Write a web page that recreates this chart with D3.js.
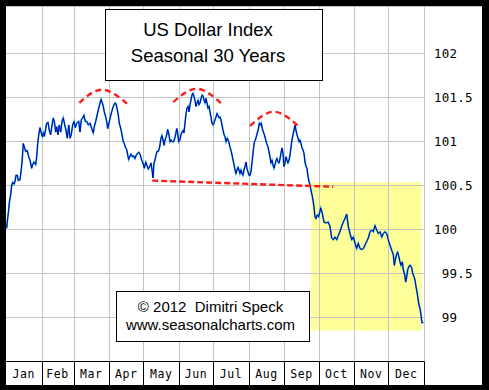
<!DOCTYPE html>
<html>
<head>
<meta charset="utf-8">
<script src="https://cdn.jsdelivr.net/npm/d3@7"></script>
<style>
  body { margin: 0; background: #000; }
  text { font-family: "Liberation Sans", Arial, sans-serif; }
  .mono { font-family: "DejaVu Sans Mono", monospace; font-size: 11.5px; letter-spacing: 0.6px; white-space: pre; }
</style>
</head>
<body>
<script>
// seasonal pattern, [day of year, index value]
const series = [
  [0.6,100.01],[1.1,100.08],[2.0,100.18],[2.9,100.30],[4.1,100.39],[5.0,100.50],[5.9,100.53],[7.0,100.51],[7.9,100.54],[8.7,100.61],
  [9.9,100.61],[10.7,100.55],[12.2,100.56],[13.1,100.65],[14.0,100.76],[15.1,100.97],[16.0,100.93],[17.2,100.88],[18.6,100.89],[19.8,100.82],
  [21.0,100.78],[22.4,100.69],[23.3,100.73],[24.4,100.76],[25.9,100.73],[26.8,100.82],[27.7,100.97],[28.6,101.07],[29.7,101.15],[30.6,101.10],
  [31.7,101.05],[32.6,101.09],[33.4,101.05],[34.7,101.14],[35.5,101.20],[36.7,101.21],[37.8,101.12],[39.0,101.07],[40.2,101.18],[41.3,101.26],
  [42.2,101.22],[43.4,101.10],[44.3,101.16],[45.4,101.07],[46.5,101.18],[47.8,101.10],[48.9,101.22],[50.0,101.26],[51.3,101.18],[52.4,101.12],
  [53.5,101.03],[54.8,101.18],[55.9,101.03],[57.0,101.07],[58.2,101.18],[59.4,101.22],[60.5,101.15],[61.7,101.20],[63.5,101.22],[64.6,101.10],
  [65.8,101.24],[67.0,101.26],[68.1,101.29],[69.2,101.22],[70.5,101.22],[71.9,101.18],[73.4,101.20],[74.8,101.14],[76.2,101.09],[77.1,101.16],
  [78.3,101.22],[79.2,101.27],[80.6,101.35],[82.1,101.43],[83.0,101.47],[84.1,101.43],[85.0,101.39],[85.8,101.33],[87.1,101.27],[87.9,101.22],
  [88.8,101.14],[89.9,101.20],[91.1,101.27],[92.3,101.33],[93.7,101.39],[95.2,101.43],[96.1,101.42],[96.9,101.37],[98.1,101.29],[98.9,101.20],
  [99.8,101.16],[101.0,101.09],[102.4,100.99],[103.3,100.97],[104.2,100.93],[105.4,100.90],[106.3,100.84],[107.1,100.79],[108.0,100.82],[109.2,100.85],
  [110.3,100.82],[111.5,100.83],[112.6,100.80],[113.8,100.84],[115.0,100.86],[116.1,100.87],[117.3,100.84],[118.5,100.78],[119.6,100.75],[120.8,100.69],
  [122.0,100.76],[123.1,100.72],[124.3,100.68],[125.5,100.71],[126.6,100.75],[127.5,100.67],[128.4,100.58],[129.2,100.75],[130.1,100.78],[131.0,100.84],
  [131.9,100.88],[133.0,100.88],[134.2,100.93],[135.3,101.03],[136.2,101.06],[137.1,101.01],[138.0,100.95],[138.8,101.01],[140.0,101.05],[141.2,101.13],
  [142.3,101.07],[143.2,100.99],[144.1,101.01],[145.2,100.99],[146.4,100.99],[147.8,101.05],[149.1,101.14],[149.9,101.09],[150.8,100.99],[151.9,101.01],
  [152.8,101.07],[153.7,101.10],[154.6,101.12],[155.4,101.09],[156.3,101.20],[157.2,101.31],[158.0,101.37],[158.9,101.39],[159.8,101.33],[160.7,101.41],
  [161.5,101.46],[162.4,101.52],[163.3,101.54],[164.2,101.50],[165.0,101.46],[165.9,101.39],[166.8,101.43],[167.7,101.46],[168.5,101.41],[169.4,101.43],
  [170.3,101.48],[171.2,101.52],[172.0,101.51],[172.9,101.46],[173.8,101.43],[174.7,101.48],[175.5,101.43],[176.4,101.37],[177.3,101.39],[178.1,101.33],
  [179.0,101.27],[179.9,101.20],[180.8,101.18],[181.6,101.20],[182.5,101.24],[183.4,101.27],[184.3,101.31],[185.1,101.29],[186.0,101.26],[186.9,101.27],
  [187.7,101.24],[188.6,101.18],[189.5,101.12],[190.4,101.07],[191.2,101.05],[192.1,100.99],[193.2,101.03],[194.5,100.99],[195.6,100.93],[196.7,100.88],
  [198.0,100.80],[199.1,100.73],[200.0,100.67],[200.8,100.63],[201.7,100.67],[202.6,100.70],[203.5,100.67],[204.3,100.63],[205.2,100.67],[206.1,100.63],
  [206.9,100.61],[207.8,100.67],[208.7,100.71],[209.6,100.76],[210.4,100.69],[211.3,100.65],[212.2,100.61],[213.1,100.61],[213.9,100.65],[214.8,100.75],
  [216.0,100.90],[216.9,100.99],[217.8,101.01],[219.0,101.07],[220.1,101.12],[221.2,101.20],[222.1,101.18],[222.9,101.20],[223.8,101.14],[224.7,101.10],
  [225.6,101.07],[226.4,101.03],[227.6,100.97],[228.8,100.93],[229.6,100.88],[230.5,100.82],[231.4,100.75],[232.3,100.78],[233.1,100.73],[234.0,100.69],
  [234.9,100.73],[235.8,100.78],[236.6,100.80],[237.5,100.76],[238.4,100.75],[239.3,100.80],[240.1,100.86],[241.0,100.92],[241.9,100.86],[242.7,100.71],
  [243.6,100.75],[244.5,100.82],[245.4,100.78],[246.2,100.75],[247.1,100.78],[248.0,100.84],[248.9,100.93],[249.7,101.01],[250.6,101.07],[251.5,101.12],
  [252.4,101.18],[253.2,101.12],[254.1,101.07],[255.0,101.03],[255.9,100.99],[256.7,101.01],[257.6,100.97],[258.5,100.92],[259.3,100.90],[260.2,100.86],
  [261.1,100.76],[262.0,100.71],[262.8,100.69],[263.7,100.60],[264.6,100.54],[265.5,100.50],[266.3,100.44],[267.2,100.39],[268.1,100.33],[269.0,100.24],
  [269.8,100.14],[270.7,100.12],[271.8,100.16],[273.0,100.14],[274.8,100.24],[276.2,100.18],[277.7,100.08],[279.4,100.07],[281.4,100.08],[282.9,100.03],
  [284.4,99.90],[285.8,99.88],[287.3,99.91],[288.8,99.88],[290.2,99.93],[291.6,99.97],[293.1,100.03],[294.5,100.08],[296.0,100.12],[297.5,100.17],
  [298.9,100.03],[300.4,99.95],[301.9,99.88],[303.3,99.91],[304.8,99.84],[306.2,99.78],[307.6,99.84],[309.1,99.78],[310.6,99.77],[312.0,99.78],
  [313.5,99.82],[315.0,99.86],[316.4,99.90],[317.9,99.97],[319.3,99.99],[320.7,99.97],[322.2,100.04],[323.7,99.99],[325.1,99.95],[326.6,99.97],
  [328.1,99.91],[329.5,99.95],[330.9,99.97],[332.4,99.95],[333.8,99.88],[335.3,99.82],[336.8,99.76],[338.2,99.71],[339.1,99.59],[339.9,99.65],
  [341.2,99.72],[342.0,99.74],[343.2,99.68],[344.0,99.63],[344.9,99.59],[346.1,99.63],[346.9,99.54],[348.2,99.48],[349.0,99.40],[349.9,99.46],
  [350.8,99.54],[351.9,99.58],[353.0,99.59],[354.3,99.56],[355.1,99.50],[356.3,99.46],[357.2,99.42],[358.0,99.35],[358.9,99.29],[359.8,99.21],
  [360.6,99.14],[361.5,99.10],[362.4,99.03],[363.2,98.94],[364.4,98.94]
];

const monthNames = ["Jan","Feb","Mar","Apr","May","Jun","Jul","Aug","Sep","Oct","Nov","Dec"];
const monthDays = [31,28,31,30,31,30,31,31,30,31,30,31];
const yTicks = [99, 99.5, 100, 100.5, 101, 101.5, 102];

// hand drawn annotations (day, value)
const arcMar = [[64.0,101.43],[84.4,101.58],[107.7,101.40]];
const arcJun = [[146.1,101.44],[167.0,101.59],[189.2,101.41]];
const arcAug = [[213.1,101.17],[234.3,101.33],[256.7,101.15]];
const supportLine = [[127.7,100.55],[285.8,100.48]];
const highlightDays = [266.3, 363.0];
const highlightValues = [98.85, 100.53];

const titleLines = ["US Dollar Index", "Seasonal 30 Years"];
const creditLines = ["\u00a9 2012  Dimitri Speck", "www.seasonalcharts.com"];

const W = 489, H = 390;
const plot = {left: 6, right: 424, top: 6, bottom: 361.5};

const x = d3.scaleLinear().domain([0, 365]).range([plot.left, plot.right]);
const y = d3.scaleLinear().domain([98.5, 102.5]).range([plot.bottom, 8.5]);

const svg = d3.select("body").append("svg")
  .attr("width", W)
  .attr("height", H)
  .style("display", "block");

// black frame + white panel
svg.append("rect").attr("width", W).attr("height", H).attr("fill", "#000");
svg.append("rect")
  .attr("x", 6).attr("y", 6)
  .attr("width", 482 - 6).attr("height", 385 - 6)
  .attr("fill", "#fff");

// month boundaries
const monthStarts = [0];
monthDays.forEach((d, i) => monthStarts.push(monthStarts[i] + d));

// highlight box
svg.append("rect")
  .attr("x", x(highlightDays[0]))
  .attr("y", y(highlightValues[1]))
  .attr("width", x(highlightDays[1]) - x(highlightDays[0]))
  .attr("height", y(highlightValues[0]) - y(highlightValues[1]))
  .attr("fill", "#ffff99");

// grid
const grid = svg.append("g").attr("stroke", "#c4c4c4").attr("stroke-width", 1);
grid.selectAll(".vg").data(monthStarts.slice(1)).enter().append("line")
  .attr("x1", d => Math.round(x(d)) + 0.5).attr("x2", d => Math.round(x(d)) + 0.5)
  .attr("y1", plot.top).attr("y2", plot.bottom);
grid.selectAll(".hg").data(yTicks).enter().append("line")
  .attr("x1", plot.left).attr("x2", plot.right)
  .attr("y1", d => Math.round(y(d)) + 0.5).attr("y2", d => Math.round(y(d)) + 0.5);
grid.append("line")
  .attr("x1", plot.left).attr("x2", 482)
  .attr("y1", 6.5).attr("y2", 6.5);

// y labels (right side, padded like the original)
const yAxis = d3.axisRight(y)
  .tickValues(yTicks)
  .tickSize(0)
  .tickPadding(0)
  .tickFormat(d => (d < 100 ? " " : "") + (d % 1 === 0 ? d3.format("d")(d) : d3.format(".1f")(d)));
svg.append("g")
  .attr("transform", "translate(434,0)")
  .call(yAxis)
  .call(g => g.select(".domain").remove())
  .selectAll("text")
  .attr("class", "mono")
  .attr("fill", "#000")
  .attr("dy", "0.36em")
  .style("font-size", "12.5px")
  .style("letter-spacing", "0.2px");

// month label band
const band = svg.append("g");
band.append("line")
  .attr("x1", plot.left).attr("x2", plot.right + 0.5)
  .attr("y1", 361.5).attr("y2", 361.5)
  .attr("stroke", "#000");
band.selectAll(".sep").data(monthStarts.slice(1)).enter().append("line")
  .attr("x1", d => Math.round(x(d)) + 0.5).attr("x2", d => Math.round(x(d)) + 0.5)
  .attr("y1", 361.5).attr("y2", 385)
  .attr("stroke", "#000");
band.selectAll(".mlabel").data(monthNames).enter().append("text")
  .attr("class", "mono")
  .attr("x", (d, i) => x(monthStarts[i] + monthDays[i] / 2))
  .attr("y", 374)
  .attr("dy", "0.35em")
  .attr("text-anchor", "middle")
  .text(d => d);

// series line
const line = d3.line().x(d => x(d[0])).y(d => y(d[1]));
svg.append("path").datum(series)
  .attr("fill", "none")
  .attr("stroke", "#18a8d0")
  .attr("stroke-width", 1.7)
  .attr("d", line);
svg.append("path").datum(series)
  .attr("fill", "none")
  .attr("stroke", "#0000b4")
  .attr("stroke-width", 1)
  .attr("d", line);

// red dashed annotations
const arc = d3.line().x(d => x(d[0])).y(d => y(d[1])).curve(d3.curveNatural);
svg.selectAll(".arc").data([arcMar, arcJun, arcAug]).enter().append("path")
  .attr("fill", "none")
  .attr("stroke", "#ff1a1a")
  .attr("stroke-width", 2.4)
  .attr("stroke-dasharray", "6,4")
  .attr("d", arc);
svg.append("path").datum(supportLine)
  .attr("fill", "none")
  .attr("stroke", "#ff1a1a")
  .attr("stroke-width", 2.4)
  .attr("stroke-dasharray", "6,3")
  .attr("d", line);

// title box
svg.append("rect")
  .attr("x", 105.5).attr("y", 9.5)
  .attr("width", 217).attr("height", 71)
  .attr("fill", "#fff").attr("stroke", "#000");
svg.selectAll(".title").data(titleLines).enter().append("text")
  .attr("x", 208)
  .attr("y", (d, i) => 36 + i * 26)
  .attr("text-anchor", "middle")
  .style("font-size", "18.5px")
  .text(d => d);

// credit box
svg.append("rect")
  .attr("x", 116.5).attr("y", 291.5)
  .attr("width", 193).attr("height", 50)
  .attr("fill", "#fff").attr("stroke", "#000");
svg.selectAll(".credit").data(creditLines).enter().append("text")
  .attr("x", 210.5)
  .attr("y", (d, i) => 311.5 + i * 18)
  .attr("text-anchor", "middle")
  .style("font-size", "15px")
  .style("white-space", "pre")
  .text(d => d);
</script>
</body>
</html>
